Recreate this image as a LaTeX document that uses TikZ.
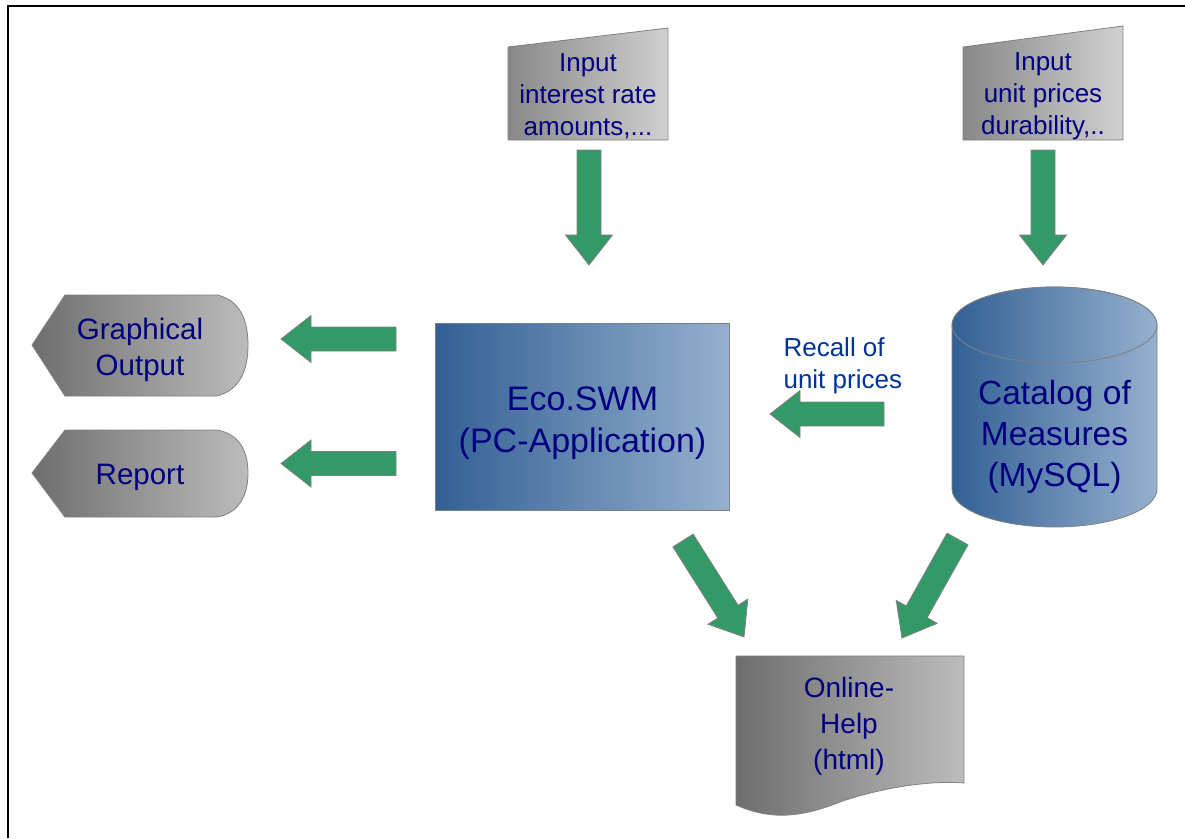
\documentclass[tikz,border=0pt]{standalone}
\usepackage{fontspec}
\setmainfont{Liberation Sans}
\usetikzlibrary{calc}
\definecolor{txtnavy}{RGB}{0,0,128}
\definecolor{recallblue}{RGB}{0,51,153}
\definecolor{arrgreen}{RGB}{51,153,102}
\definecolor{edgegray}{RGB}{128,128,128}
\definecolor{blueL}{RGB}{50,96,148}
\definecolor{blueR}{RGB}{150,176,206}
\definecolor{grayL}{RGB}{110,110,110}
\definecolor{grayR}{RGB}{188,188,188}
\definecolor{inL}{RGB}{136,136,136}
\definecolor{inR}{RGB}{208,208,208}

% green block arrow from #1 to #2
\newcommand\blockarrow[2]{%
	\path coordinate (hb) at ($(#2)!30pt!(#1)$);
	\draw[garrow] ($(#1)!12pt!90:(#2)$) -- ($(hb)!12pt!90:(#2)$) -- ($(hb)!23.5pt!90:(#2)$) -- (#2)
		-- ($(hb)!23.5pt!-90:(#2)$) -- ($(hb)!12pt!-90:(#2)$) -- ($(#1)!12pt!-90:(#2)$) -- cycle;
}

\begin{document}
\begin{tikzpicture}[x=1pt, y=1pt,
		txt/.style={text=txtnavy, align=center, font=\fontsize{26}{32}\selectfont},
		garrow/.style={fill=arrgreen, draw=edgegray, line width=0.8pt, line join=miter},
		grayshade/.style={left color=grayL, right color=grayR, draw=edgegray, line width=0.8pt},
		inshade/.style={left color=inL, right color=inR, draw=edgegray, line width=0.8pt},
		blueshade/.style={left color=blueL, right color=blueR, draw=edgegray, line width=0.8pt}]
	\useasboundingbox (0,0) rectangle (1185,-838);
	\draw[line width=2pt] (8,-838) -- (8,-6) -- (1185,-6);

	% inputs
	\shade[inshade] (508,-47) -- (668,-28) -- (668,-140) -- (508,-140) -- cycle;
	\node[txt] (in1) at (588,-96.5) {Input\\interest rate\\amounts,...};
	\shade[inshade] (963,-47) -- (1123,-26) -- (1123,-140) -- (963,-140) -- cycle;
	\node[txt] (in2) at (1043,-96.5) {Input\\unit prices\\durability,..};

	% main program
	\node[blueshade, minimum width=294, minimum height=187] (eco) at (582,-416.5) {};
	\node[txt, font=\fontsize{34}{42}\selectfont] (ecotxt) at (582.5,-423.5) {Eco.SWM\\(PC-Application)};

	% database
	\shade[blueshade] (952,-325) -- (952,-489) arc[start angle=180, end angle=360, x radius=102.5, y radius=38]
		-- (1157,-325) arc[start angle=0, end angle=180, x radius=102.5, y radius=38] -- cycle;
	\shade[blueshade] (1054.5,-325) ellipse[x radius=102.5, y radius=38];
	\node[txt, font=\fontsize{33.5}{41}\selectfont] (cat) at (1054.5,-437) {Catalog of\\Measures\\(MySQL)};

	% outputs
	\shade[grayshade] (32,-345) -- (65,-295) -- (217,-295) .. controls (240,-300) and (248,-320) .. (248,-345)
		.. controls (248,-370) and (240,-390) .. (217,-396) -- (65,-396) -- cycle;
	\node[txt, font=\fontsize{29.5}{36}\selectfont] (gout) at (140,-350) {Graphical\\Output};
	\shade[grayshade] (32,-473) -- (65,-430) -- (217,-430) .. controls (240,-434) and (248,-452) .. (248,-473)
		.. controls (248,-494) and (240,-513) .. (217,-517) -- (65,-517) -- cycle;
	\node[txt, font=\fontsize{29.5}{36}\selectfont] (rep) at (140,-477) {Report};

	\shade[grayshade] (736,-656) -- (964,-656) -- (964,-783) .. controls (930,-780) and (880,-788) .. (840,-802)
		.. controls (800,-818) and (770,-820) .. (736,-805) -- cycle;
	\node[txt, font=\fontsize{28}{36}\selectfont] (help) at (849,-726.5) {Online-\\Help\\(html)};

	\node[anchor=west, align=left, text=recallblue, font=\fontsize{26}{32}\selectfont] (rec) at (780,-365.5) {Recall of\\unit prices};

	% arrows
	\coordinate (a1s) at (589,-150);  \coordinate (a1e) at (589,-265);
	\coordinate (a2s) at (1043,-150); \coordinate (a2e) at (1043,-265);
	\coordinate (a3s) at (396,-339);  \coordinate (a3e) at (281,-339);
	\coordinate (a4s) at (396,-463.5); \coordinate (a4e) at (281,-463.5);
	\coordinate (a5s) at (884,-414);  \coordinate (a5e) at (770,-414);
	\coordinate (a6s) at (683,-540.5); \coordinate (a6e) at (744,-637);
	\coordinate (a7s) at (957.5,-539); \coordinate (a7e) at (902,-638);
	\foreach \i in {1,...,7}
		\blockarrow{a\i s}{a\i e};
\end{tikzpicture}
\end{document}
